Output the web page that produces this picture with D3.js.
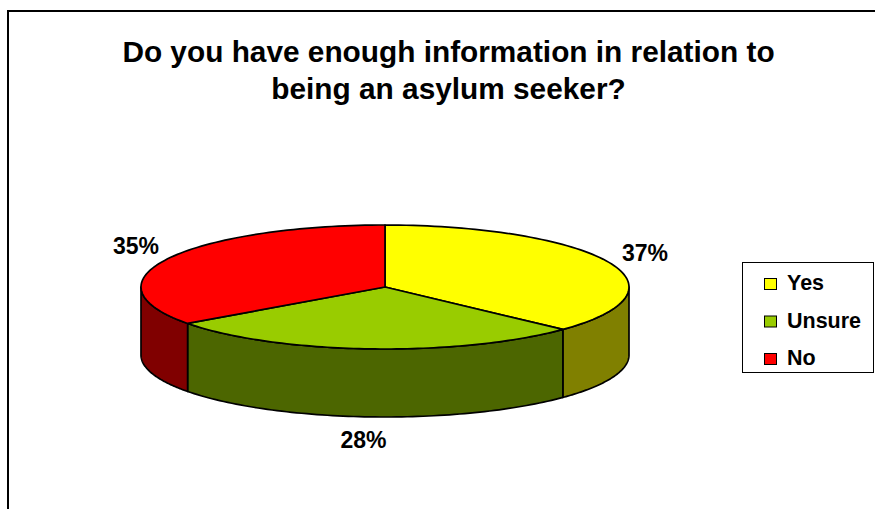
<!DOCTYPE html>
<html>
<head>
<meta charset="utf-8">
<script src="https://cdn.jsdelivr.net/npm/d3@7"></script>
<style>
  html, body { margin: 0; padding: 0; background: #fff; }
  svg { display: block; }
  text { font-family: "Liberation Sans", Arial, Helvetica, sans-serif; font-weight: bold; fill: #000; }
</style>
</head>
<body>
<script>
const categories = ["Yes", "Unsure", "No"];
const values = [37, 28, 35];
const labels = ["37%", "28%", "35%"];
const topColors = ["#FFFF00", "#99CC00", "#FF0000"];
const sideColors = ["#808000", "#4C6600", "#800000"];
const titleLines = ["Do you have enough information in relation to", "being an asylum seeker?"];

const W = 875, H = 509;
const svg = d3.select("body").append("svg").attr("width", W).attr("height", H);

// chart frame
svg.append("rect").attr("x", 8).attr("y", 11).attr("width", W + 20).attr("height", H + 20)
  .attr("fill", "#fff").attr("stroke", "#000").attr("stroke-width", 2);

// title
svg.append("g").selectAll("text").data(titleLines).join("text")
  .attr("x", 448.5).attr("y", (d, i) => 62 + i * 37)
  .attr("text-anchor", "middle").style("font-size", "29.8px")
  .text(d => d);

const cx = 385, cy = 287, rx = 244, ry = 62, depth = 68;
const topFill = d3.scaleOrdinal().domain(categories).range(topColors);
const sideFill = d3.scaleOrdinal().domain(categories).range(sideColors);

const pie = d3.pie().sort(null).value(d => d.v);
const arcs = pie(categories.map((c, i) => ({ c, v: values[i], label: labels[i] })));

const px = a => cx + rx * Math.sin(a);
const py = (a, dy = 0) => cy - ry * Math.cos(a) + dy;

function topPath(a0, a1) {
  const n = 80;
  let p = `M${cx},${cy}`;
  for (let k = 0; k <= n; k++) {
    const a = a0 + (a1 - a0) * k / n;
    p += `L${px(a)},${py(a)}`;
  }
  return p + "Z";
}
function sidePath(a0, a1) {
  const n = 80;
  let p = "";
  for (let k = 0; k <= n; k++) {
    const a = a0 + (a1 - a0) * k / n;
    p += (k === 0 ? "M" : "L") + `${px(a)},${py(a)}`;
  }
  for (let k = n; k >= 0; k--) {
    const a = a0 + (a1 - a0) * k / n;
    p += `L${px(a)},${py(a, depth)}`;
  }
  return p + "Z";
}

const g = svg.append("g");
// side walls (front half: from PI/2 to 3PI/2)
arcs.forEach(d => {
  const a0 = Math.max(d.startAngle, Math.PI / 2);
  const a1 = Math.min(d.endAngle, 3 * Math.PI / 2);
  if (a1 > a0) {
    g.append("path").attr("d", sidePath(a0, a1))
      .attr("fill", sideFill(d.data.c)).attr("stroke", "#000")
      .attr("stroke-width", 1.7).attr("stroke-linejoin", "round");
  }
});
// tops
arcs.forEach(d => {
  g.append("path").attr("d", topPath(d.startAngle, d.endAngle))
    .attr("fill", topFill(d.data.c)).attr("stroke", "#000")
    .attr("stroke-width", 1.7).attr("stroke-linejoin", "round");
});

// percentage labels
const labelPos = { "Yes": [645, 261], "Unsure": [363.5, 448], "No": [136, 254] };
svg.append("g").selectAll("text").data(arcs).join("text")
  .attr("x", d => labelPos[d.data.c][0]).attr("y", d => labelPos[d.data.c][1])
  .attr("text-anchor", "middle").style("font-size", "23px")
  .text(d => d.data.label);

// legend
const lg = svg.append("g");
lg.append("rect").attr("x", 742.5).attr("y", 262.5).attr("width", 131).attr("height", 110)
  .attr("fill", "#fff").attr("stroke", "#000").attr("stroke-width", 1);
const rows = lg.selectAll("g.row").data(categories).join("g").attr("class", "row")
  .attr("transform", (d, i) => `translate(0,${i * 37.5})`);
rows.append("rect").attr("x", 764.5).attr("y", 278.5).attr("width", 12).attr("height", 11)
  .attr("fill", d => topFill(d)).attr("stroke", "#000").attr("stroke-width", 1);
rows.append("text").attr("x", 787).attr("y", 290).style("font-size", "21.5px").text(d => d);
</script>
</body>
</html>
